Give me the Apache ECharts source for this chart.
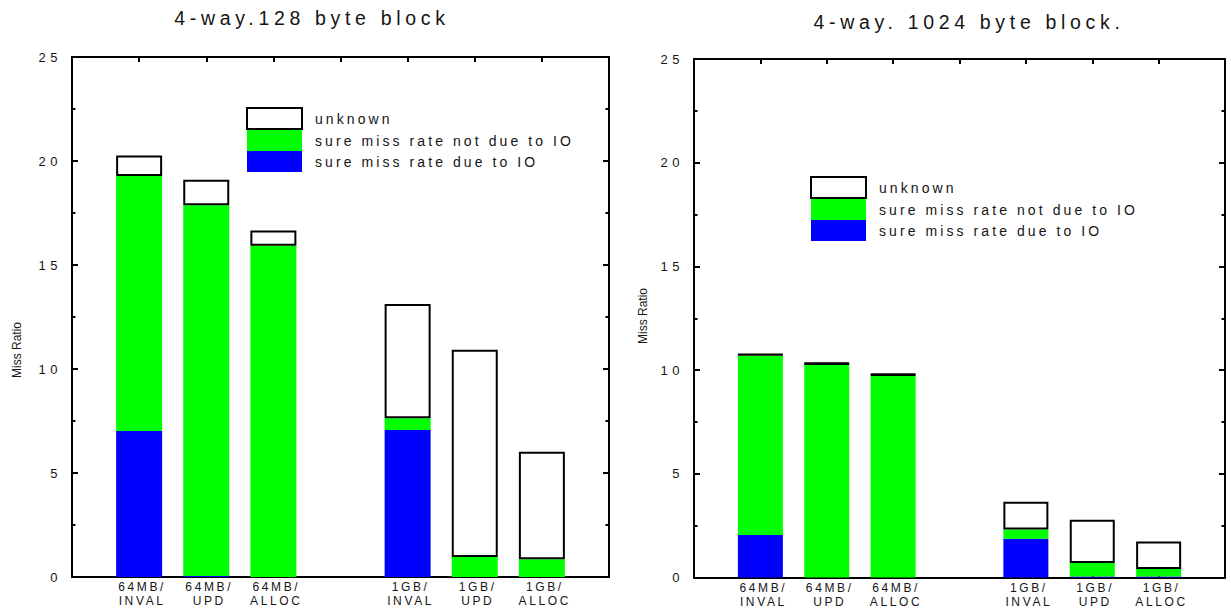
<!DOCTYPE html>
<html>
<head>
<meta charset="utf-8">
<script src="https://cdn.jsdelivr.net/npm/echarts@6/dist/echarts.min.js"></script>
<style>
  html, body { margin: 0; padding: 0; background: #fff; }
  #chart { width: 1231px; height: 609px; }
  /* spaced-out lettering of the plot text; the narrow axis title stays tight */
  #chart text { letter-spacing: 0.22em; }
  #chart text[style*="13px"] { letter-spacing: 0.35em; }
  #chart text[style*="19.5px"] { letter-spacing: 0.24em; }
  #chart text[style*="Narrow"] { letter-spacing: 0; }
</style>
</head>
<body>
<div id="chart"></div>
<script>
// Categories along x (blank slots are the gaps at both ends and between the two groups)
const categories = ['', '64MB/\nINVAL', '64MB/\nUPD', '64MB/\nALLOC', '', '1GB/\nINVAL', '1GB/\nUPD', '1GB/\nALLOC', ''];

const seriesNames = ['sure miss rate due to IO', 'sure miss rate not due to IO', 'unknown'];
const legendOrder = ['unknown', 'sure miss rate not due to IO', 'sure miss rate due to IO'];

const titles = ['4-way.128 byte block', '4-way. 1024 byte block.'];
const yTitle = 'Miss Ratio';

// 4-way, 128 byte block: stacked components (miss ratio)
const io128      = [null, 7.02, 0.05, 0,     null, 7.07, 0,    0,    null];
const notIo128   = [null, 12.26, 17.82, 15.93, null, 0.56, 0.96, 0.85, null];
const unknown128 = [null, 0.99, 1.23, 0.73,  null, 5.50, 9.97, 5.17, null];

// 4-way, 1024 byte block: stacked components (miss ratio)
const io1024      = [null, 2.05, 0,     0,    null, 1.87, 0.05, 0.05, null];
const notIo1024   = [null, 8.64, 10.25, 9.72, null, 0.45, 0.65, 0.36, null];
const unknown1024 = [null, 0.11, 0.13,  0.13, null, 1.33, 2.09, 1.32, null];

const yTicks = { min: 0, max: 25, interval: 5 };

const FONT = '"Liberation Sans", Arial, Helvetica, sans-serif';
const NARROW = '"Liberation Sans Narrow", "Arial Narrow", sans-serif';
const BLUE = '#0000ff', GREEN = '#00ff00';
const INK = '#151515';
const frameLine = { color: '#000', width: 2 };

const chart = echarts.init(document.getElementById('chart'), null, { renderer: 'svg' });

function xAxes(g) {
  return [
    {
      gridIndex: g, type: 'category', position: 'bottom', boundaryGap: false, data: categories,
      axisLine: { onZero: false, lineStyle: frameLine },
      // small ticks only under the slots that hold a bar
      axisTick: { inside: true, length: 4, interval: (i) => categories[i] !== '', lineStyle: frameLine },
      axisLabel: { interval: 0, margin: 3, fontSize: 12, lineHeight: 14, color: INK, fontFamily: FONT, padding: [0, 0, 0, 6] },
      splitLine: { show: false }
    },
    {
      gridIndex: g, type: 'category', position: 'top', boundaryGap: false, data: categories,
      axisLine: { onZero: false, lineStyle: frameLine },
      axisTick: { inside: true, length: 5, interval: 0, lineStyle: frameLine },
      axisLabel: { show: false },
      splitLine: { show: false }
    }
  ];
}

function yAxes(g) {
  const common = {
    gridIndex: g, type: 'value', min: yTicks.min, max: yTicks.max, interval: yTicks.interval,
    axisLine: { show: true, onZero: false, lineStyle: frameLine },
    axisTick: { show: true, inside: true, length: 6, lineStyle: frameLine },
    minorTick: { show: true, splitNumber: 2, length: 3.5, lineStyle: frameLine },
    splitLine: { show: false }
  };
  return [
    Object.assign({}, common, {
      position: 'left',
      axisLabel: { margin: 10, fontSize: 13, color: INK, fontFamily: FONT, padding: [7, 0, 0, 0] }
    }),
    Object.assign({}, common, { position: 'right', axisLabel: { show: false } })
  ];
}

function stackSeries(xi, yi, stack, io, notIo, unknown, width) {
  return [
    { name: seriesNames[0], type: 'bar', xAxisIndex: xi, yAxisIndex: yi, stack, barWidth: width,
      data: io, itemStyle: { color: BLUE } },
    { name: seriesNames[1], type: 'bar', xAxisIndex: xi, yAxisIndex: yi, stack, barWidth: width,
      data: notIo, itemStyle: { color: GREEN } },
    { name: seriesNames[2], type: 'bar', xAxisIndex: xi, yAxisIndex: yi, stack, barWidth: width,
      data: unknown, itemStyle: { color: '#ffffff', borderColor: '#000', borderWidth: 2 } }
  ];
}

function legend(left, top) {
  return {
    orient: 'vertical', left, top, padding: 0, itemWidth: 55, itemHeight: 21, itemGap: 0,
    icon: 'rect', selectedMode: false,
    data: legendOrder,
    textStyle: { fontSize: 14, color: INK, fontFamily: FONT, padding: [0, 0, 0, 8] }
  };
}

const option = {
  animation: false,
  backgroundColor: '#fff',
  grid: [
    { left: 72, top: 57, width: 537, height: 520 },
    { left: 694, top: 59, width: 538, height: 518.5 }
  ],
  xAxis: [...xAxes(0), ...xAxes(1)],
  yAxis: [...yAxes(0), ...yAxes(1)],
  legend: [legend(246, 107), legend(810, 176)],
  series: [
    ...stackSeries(0, 0, 'b128', io128, notIo128, unknown128, 46),
    ...stackSeries(2, 2, 'b1024', io1024, notIo1024, unknown1024, 45)
  ],
  graphic: [
    { type: 'text', x: 312, y: 18, style: { text: titles[0], font: '19.5px ' + FONT, fill: INK, textAlign: 'center', textVerticalAlign: 'middle' } },
    { type: 'text', x: 969, y: 22, style: { text: titles[1], font: '19.5px ' + FONT, fill: INK, textAlign: 'center', textVerticalAlign: 'middle' } },
    { type: 'text', x: 17, y: 350, rotation: Math.PI / 2, style: { text: yTitle, font: '12px ' + NARROW, fill: INK, textAlign: 'center', textVerticalAlign: 'middle' } },
    { type: 'text', x: 643, y: 316, rotation: Math.PI / 2, style: { text: yTitle, font: '12px ' + NARROW, fill: INK, textAlign: 'center', textVerticalAlign: 'middle' } }
  ]
};

chart.setOption(option);
</script>
</body>
</html>
